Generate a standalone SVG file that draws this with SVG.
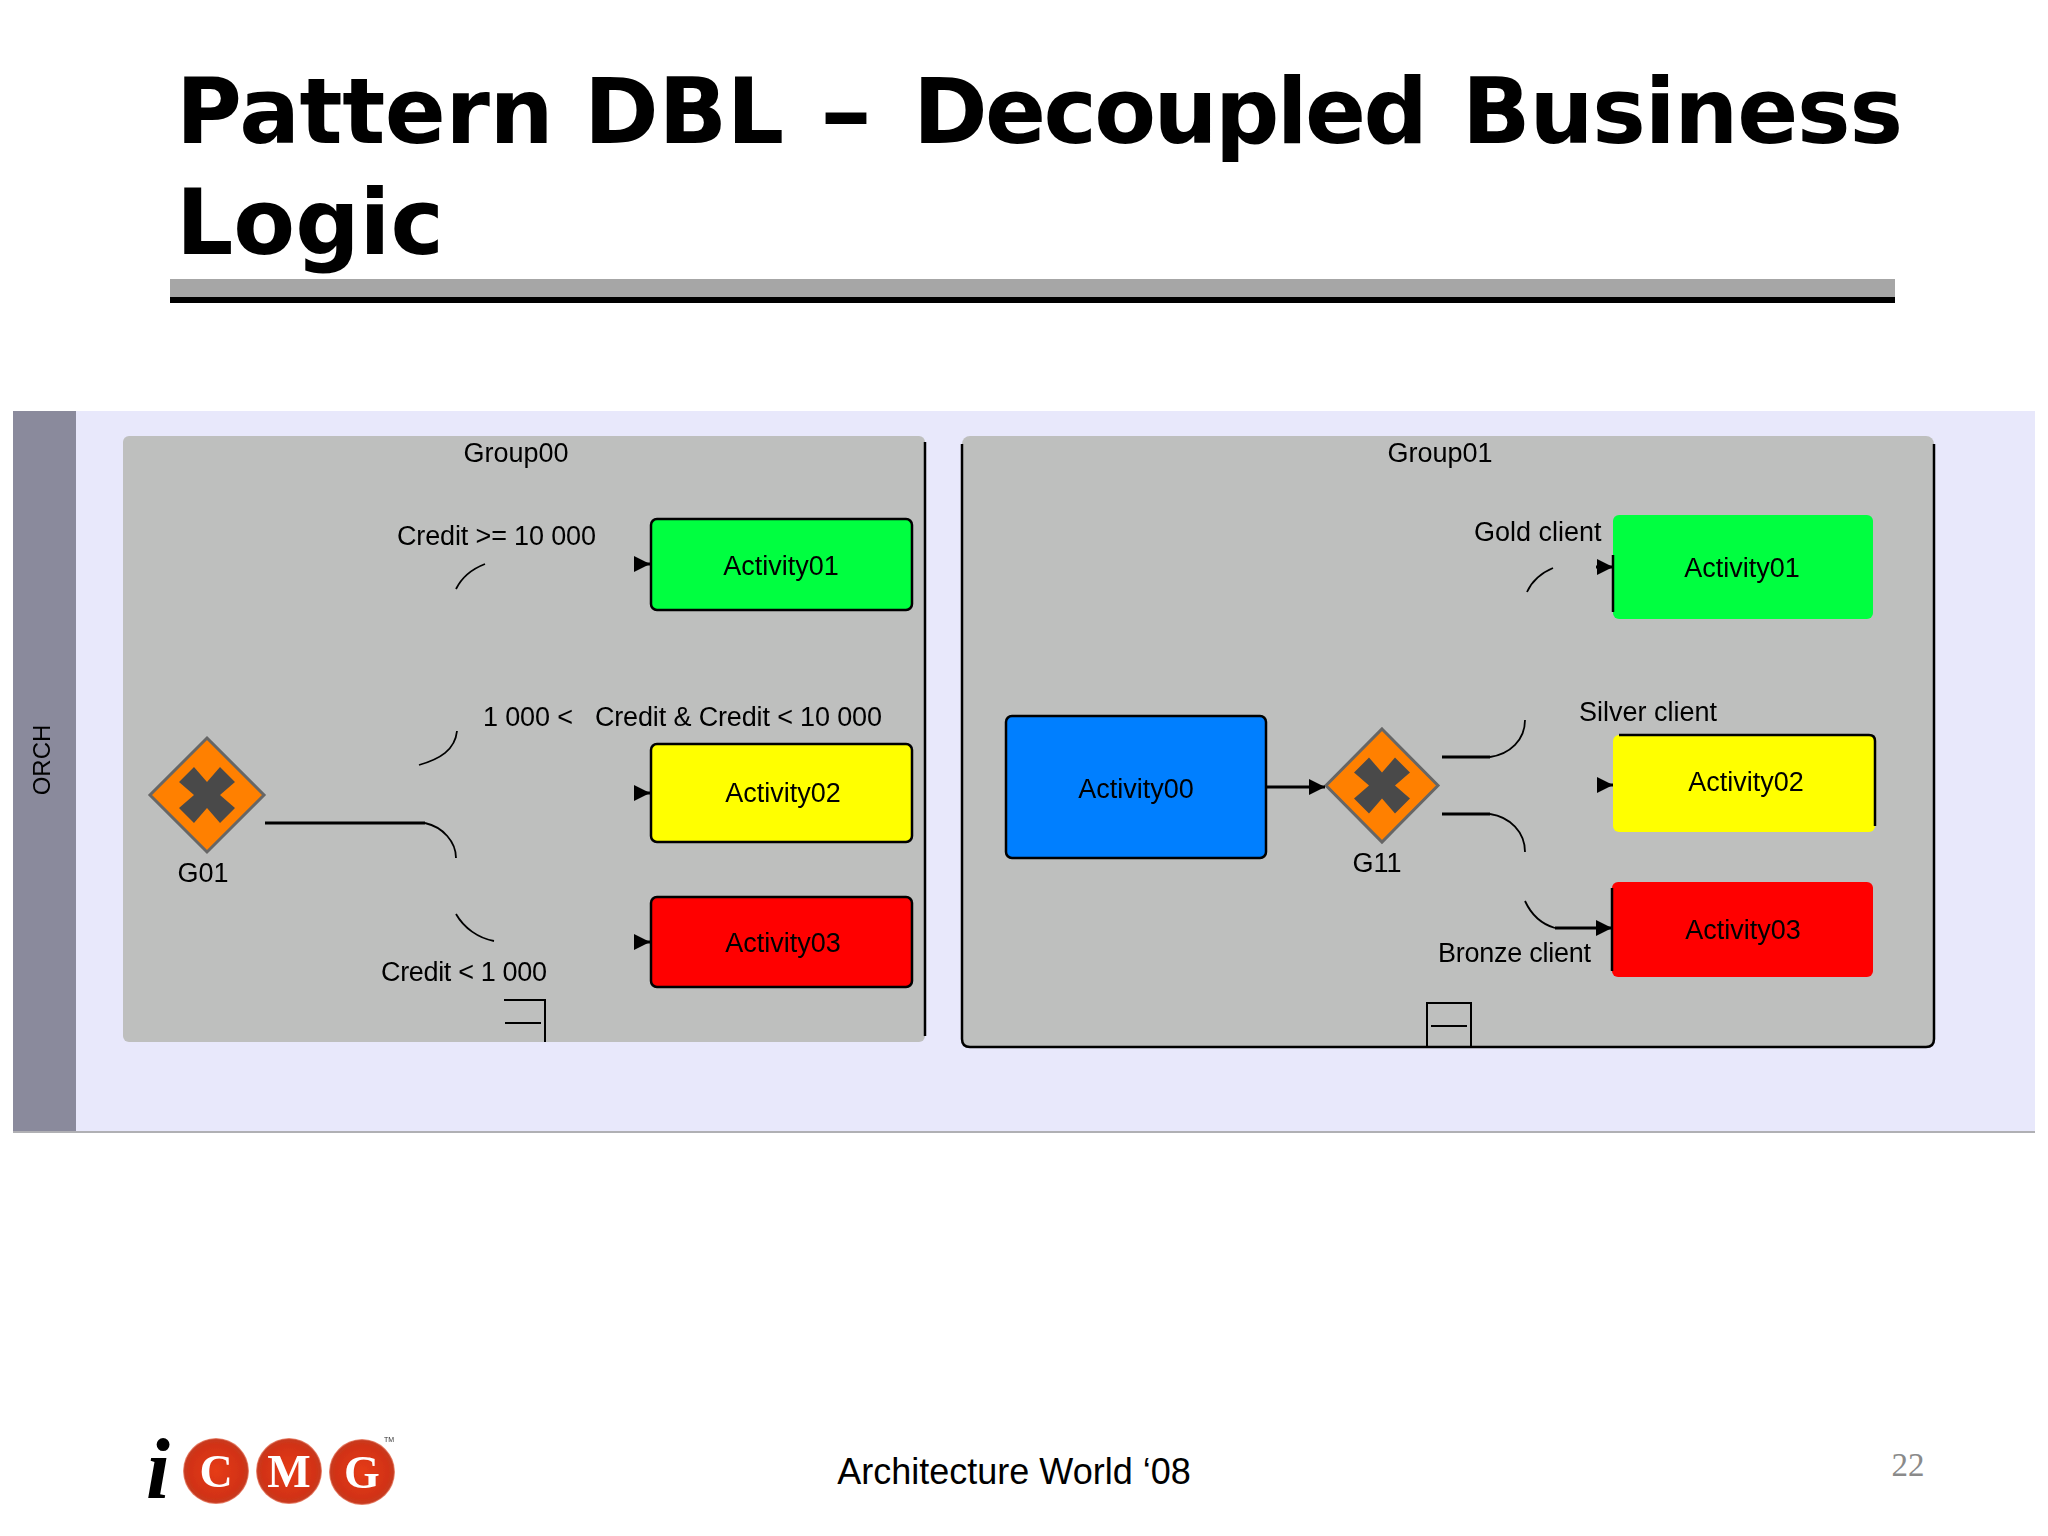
<svg xmlns="http://www.w3.org/2000/svg" width="2048" height="1536" viewBox="0 0 2048 1536">
<defs>
<style>
.t{font-family:"DejaVu Sans",Verdana,sans-serif;font-weight:bold;font-size:90px;fill:#000}
.l{font-family:"Liberation Sans",Arial,sans-serif;font-size:27px;fill:#000}
.m{text-anchor:middle}
.edge{fill:none;stroke:#000;stroke-width:1.8}
.thick{fill:none;stroke:#000;stroke-width:3}
.head{fill:none;stroke:#000;stroke-width:3;marker-end:url(#arr)}
.grp{fill:#bebfbe}
.out{fill:none;stroke:#000;stroke-width:2.5}
.gw{fill:#ff8000;stroke:#666;stroke-width:3}
.x{fill:#4a4a4a}
.logo{font-family:"Liberation Serif","Times New Roman",serif;font-weight:bold;fill:#fff;font-size:46px;text-anchor:middle}
</style>
<filter id="soft" x="-5%" y="-5%" width="110%" height="110%"><feGaussianBlur stdDeviation="0.5"/></filter>
<radialGradient id="ball" cx="50%" cy="50%" r="50%"><stop offset="0" stop-color="#e63c18"/><stop offset="0.8" stop-color="#d23214"/><stop offset="0.95" stop-color="#c83a20"/><stop offset="1" stop-color="#f09a84"/></radialGradient>
<marker id="arr" viewBox="0 0 10 10" refX="10" refY="5" markerWidth="5.5" markerHeight="5.5" orient="auto"><path d="M0 0L10 5L0 10z" fill="#000"/></marker>
<path id="cross" d="M-13 -28L0 -13L13 -28L28 -13L13 0L28 13L13 28L0 13L-13 28L-28 13L-13 0L-28 -13z"/>
</defs>
<rect width="2048" height="1536" fill="#fff"/>
<g id="title">
<text class="t" x="176" y="143" textLength="608" lengthAdjust="spacing">Pattern DBL</text>
<text class="t" x="820" y="143" textLength="52" lengthAdjust="spacingAndGlyphs">–</text>
<text class="t" x="913" y="143" textLength="515" lengthAdjust="spacing">Decoupled</text>
<text class="t" x="1462" y="143" textLength="441" lengthAdjust="spacing">Business</text>
<text class="t" x="176" y="254">Logic</text>
<rect x="170" y="279" width="1725" height="18" fill="#a6a6a6"/>
<rect x="170" y="297" width="1725" height="6" fill="#000"/>
</g>
<g id="pool">
<rect x="13" y="411" width="2022" height="720" fill="#e8e8fb"/>
<rect x="13" y="411" width="63" height="720" fill="#8a8a9c"/>
<rect x="13" y="1131" width="2022" height="2" fill="#b0b0b4"/>
</g>
<g filter="url(#soft)">
<text id="orch" class="l m" transform="translate(50 760) rotate(-90)" style="font-size:24px">ORCH</text>
<g id="group00">
<rect class="grp" x="123" y="436" width="802" height="606" rx="6"/>
<path class="out" d="M925 442V1036"/>
<text class="l m" x="516" y="462">Group00</text>
<path class="edge" style="stroke-width:2" d="M504 1000H545V1042M505 1023H541"/>
</g>
<g id="group01">
<rect class="grp" x="962" y="436" width="972" height="611" rx="8"/>
<path class="out" d="M962 444V1039Q962 1047 970 1047H1926Q1934 1047 1934 1039V444"/>
<text class="l m" x="1440" y="462">Group01</text>
<path class="edge" style="stroke-width:2" d="M1427 1047V1003H1471V1047M1431 1026H1467"/>
</g>
<g id="g01">
<path class="gw" d="M207 738L264 795L207 852L150 795z"/>
<use href="#cross" class="x" transform="translate(207 795)"/>
<text class="l m" x="203" y="882">G01</text>
</g>
<g id="g11">
<path class="gw" d="M1382 729L1438 785.5L1382 842L1326 785.5z"/>
<use href="#cross" class="x" transform="translate(1382 785.5)"/>
<text class="l m" x="1377" y="872">G11</text>
</g>
<g id="left-activity01"><rect x="651" y="519" width="261" height="91" rx="6" fill="#00ff40" stroke="#000" stroke-width="2.5"/><text class="l m" x="781" y="575">Activity01</text></g>
<g id="left-activity02"><rect x="651" y="744" width="261" height="98" rx="6" fill="#ffff00" stroke="#000" stroke-width="2.5"/><text class="l m" x="783" y="802">Activity02</text></g>
<g id="left-activity03"><rect x="651" y="897" width="261" height="90" rx="6" fill="#ff0000" stroke="#000" stroke-width="2.5"/><text class="l m" x="783" y="952">Activity03</text></g>
<g id="right-activity00"><rect x="1006" y="716" width="260" height="142" rx="6" fill="#007fff" stroke="#000" stroke-width="2.5"/><text class="l m" x="1136" y="798">Activity00</text></g>
<g id="right-activity01"><rect x="1613" y="515" width="260" height="104" rx="6" fill="#00ff40"/><path class="edge" style="stroke-width:2.5" d="M1613 555V612"/><text class="l m" x="1742" y="577">Activity01</text></g>
<g id="right-activity02"><rect x="1613" y="735" width="262" height="97" rx="6" fill="#ffff00"/><path class="edge" style="stroke-width:2.5" d="M1619 735H1869Q1875 735 1875 741V826"/><text class="l m" x="1746" y="791">Activity02</text></g>
<g id="right-activity03"><rect x="1612" y="882" width="261" height="95" rx="6" fill="#ff0000"/><path class="edge" style="stroke-width:2.5" d="M1612 888V971"/><text class="l m" x="1743" y="939">Activity03</text></g>
<g id="connectors">
<path class="thick" d="M265 823H425"/>
<path class="edge" d="M425 823C443 827 456 842 456 858M456 914C464 928 478 938 494 941M419 765C440 759 455 750 457 731M456 589C462 577 472 569 485 564"/>
<path class="head" d="M634 564H650"/>
<path class="head" d="M634 793H650"/>
<path class="head" d="M634 942H650"/>
<path class="head" d="M1266 787H1325"/>
<path class="edge" d="M1527 592C1532 581 1541 573 1553 568"/>
<path class="head" d="M1596 567H1613"/>
<path class="thick" d="M1442 757H1490M1442 814H1490"/>
<path class="edge" d="M1490 757C1510 754 1525 740 1525 720M1490 814C1510 817 1525 832 1525 852M1525 901C1531 914 1541 924 1555 928"/>
<path class="head" d="M1598 785H1613"/>
<path class="head" d="M1555 928H1612"/>
</g>
<g id="labels">
<text class="l" x="397" y="545" textLength="199">Credit &gt;= 10 000</text>
<text class="l" x="483" y="726" textLength="399">1 000 &lt;&#160;&#160;&#160;Credit &amp; Credit &lt; 10 000</text>
<text class="l" x="381" y="981" textLength="166">Credit &lt; 1 000</text>
<text class="l" x="1474" y="541">Gold client</text>
<text class="l" x="1579" y="721">Silver client</text>
<text class="l" x="1438" y="962" textLength="153">Bronze client</text>
</g>
</g>
<g id="logo" filter="url(#soft)">
<text x="146" y="1498" style="font-family:'Liberation Serif',serif;font-style:italic;font-weight:bold;font-size:86px;fill:#000">i</text>
<circle cx="216" cy="1471" r="33" fill="url(#ball)"/><text class="logo" x="216" y="1487">C</text>
<circle cx="289" cy="1471" r="33" fill="url(#ball)"/><text class="logo" x="289" y="1487">M</text>
<circle cx="362" cy="1472" r="33" fill="url(#ball)"/><text class="logo" x="362" y="1488">G</text>
<text x="384" y="1442" style="font-family:'Liberation Sans',sans-serif;font-size:7px;fill:#333">TM</text>
</g>
<text id="footer" x="1014" y="1484" text-anchor="middle" style="font-family:'Liberation Sans',Arial,sans-serif;font-size:36px;fill:#000">Architecture World ‘08</text>
<text id="page" x="1908" y="1476" text-anchor="middle" style="font-family:'Liberation Serif','Times New Roman',serif;font-size:33px;fill:#8a8a8a">22</text>
</svg>
